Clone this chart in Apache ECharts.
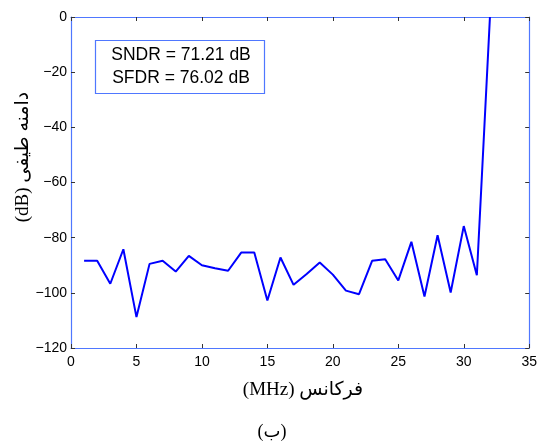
<!DOCTYPE html>
<html>
<head>
<meta charset="utf-8">
<script src="https://cdn.jsdelivr.net/npm/echarts@6/dist/echarts.min.js"></script>
<style>html,body{margin:0;padding:0;background:#fff}#c{width:540px;height:443px}</style>
</head>
<body>
<div id="c"></div>
<script>
var freq = [1,2,3,4,5,6,7,8,9,10,11,12,13,14,15,16,17,18,19,20,21,22,23,24,25,26,27,28,29,30,31,32];
var amplitude = [-88.4,-88.4,-96.7,-84.2,-108.8,-89.5,-88.4,-92.3,-86.6,-90,-91.1,-92,-85.4,-85.4,-102.8,-87.2,-97.1,-93.2,-89,-93.4,-99.2,-100.5,-88.4,-87.8,-95.5,-81.5,-101.3,-79.1,-99.9,-75.8,-93.6,0];
var xTicks = {min: 0, max: 35, interval: 5};
var yTicks = {min: -120, max: 0, interval: 20};
var infoLines = ['SNDR = 71.21 dB', 'SFDR = 76.02 dB'];
var xTitle = 'فرکانس (MHz)';
var yTitle = 'دامنه طیفی (dB)';
var caption = '(ب)';

function rtl(s) { return '\u202B' + s + '\u202C'; }

var frame = '#4f77ff';
var tickCol = '#333';
var lblFont = 'Liberation Sans, Arial, sans-serif';
var serif = 'Liberation Serif, DejaVu Serif, DejaVu Sans, serif';

var chart = echarts.init(document.getElementById('c'), null, {renderer: 'canvas'});
function axisBase(show) {
  return {
    axisLine: {show: true, onZero: false, lineStyle: {color: frame, width: 1.2}},
    axisTick: {show: true, inside: true, length: 4, lineStyle: {color: tickCol}},
    splitLine: {show: false},
    axisLabel: {show: show, color: '#000', fontFamily: lblFont, fontSize: 14,
      formatter: function (v) { return String(v).replace('-', '\u2212'); }}
  };
}
var xb = axisBase(true), xt = axisBase(false), yl = axisBase(true), yr = axisBase(false);
xb.axisLabel.margin = 7; yl.axisLabel.margin = 4;
var pts = freq.map(function (f, i) { return [f, amplitude[i]]; });
chart.setOption({
  animation: false,
  grid: {left: 71, top: 17, right: 9, bottom: 95},
  xAxis: [
    Object.assign({type: 'value', position: 'bottom'}, xTicks, xb),
    Object.assign({type: 'value', position: 'top'}, xTicks, xt)
  ],
  yAxis: [
    Object.assign({type: 'value', position: 'left'}, yTicks, yl),
    Object.assign({type: 'value', position: 'right'}, yTicks, yr)
  ],
  series: [{
    type: 'line', data: pts, showSymbol: false, symbol: 'none',
    lineStyle: {color: '#0000ff', width: 2}, clip: true
  }],
  graphic: [
    {type: 'rect', shape: {x: 95.5, y: 40.5, width: 169, height: 53},
     style: {fill: '#fff', stroke: frame, lineWidth: 1.2}, z: 10},
    {type: 'text', x: 181, y: 67, z: 11,
     style: {text: infoLines.join('\n'), font: '17.5px ' + lblFont, fill: '#000',
       textAlign: 'center', textVerticalAlign: 'middle', lineHeight: 23}},
    {type: 'text', x: 303, y: 390, z: 11,
     style: {text: rtl(xTitle), font: '19px ' + serif, fill: '#000',
       textAlign: 'center', textVerticalAlign: 'middle'}},
    {type: 'text', x: 23, y: 157, rotation: Math.PI / 2, z: 11,
     style: {text: rtl(yTitle), font: '19px ' + serif, fill: '#000',
       textAlign: 'center', textVerticalAlign: 'middle'}},
    {type: 'text', x: 272, y: 432, z: 11,
     style: {text: rtl(caption), font: '18px ' + serif, fill: '#000',
       textAlign: 'center', textVerticalAlign: 'middle'}}
  ]
});
</script>
</body>
</html>
